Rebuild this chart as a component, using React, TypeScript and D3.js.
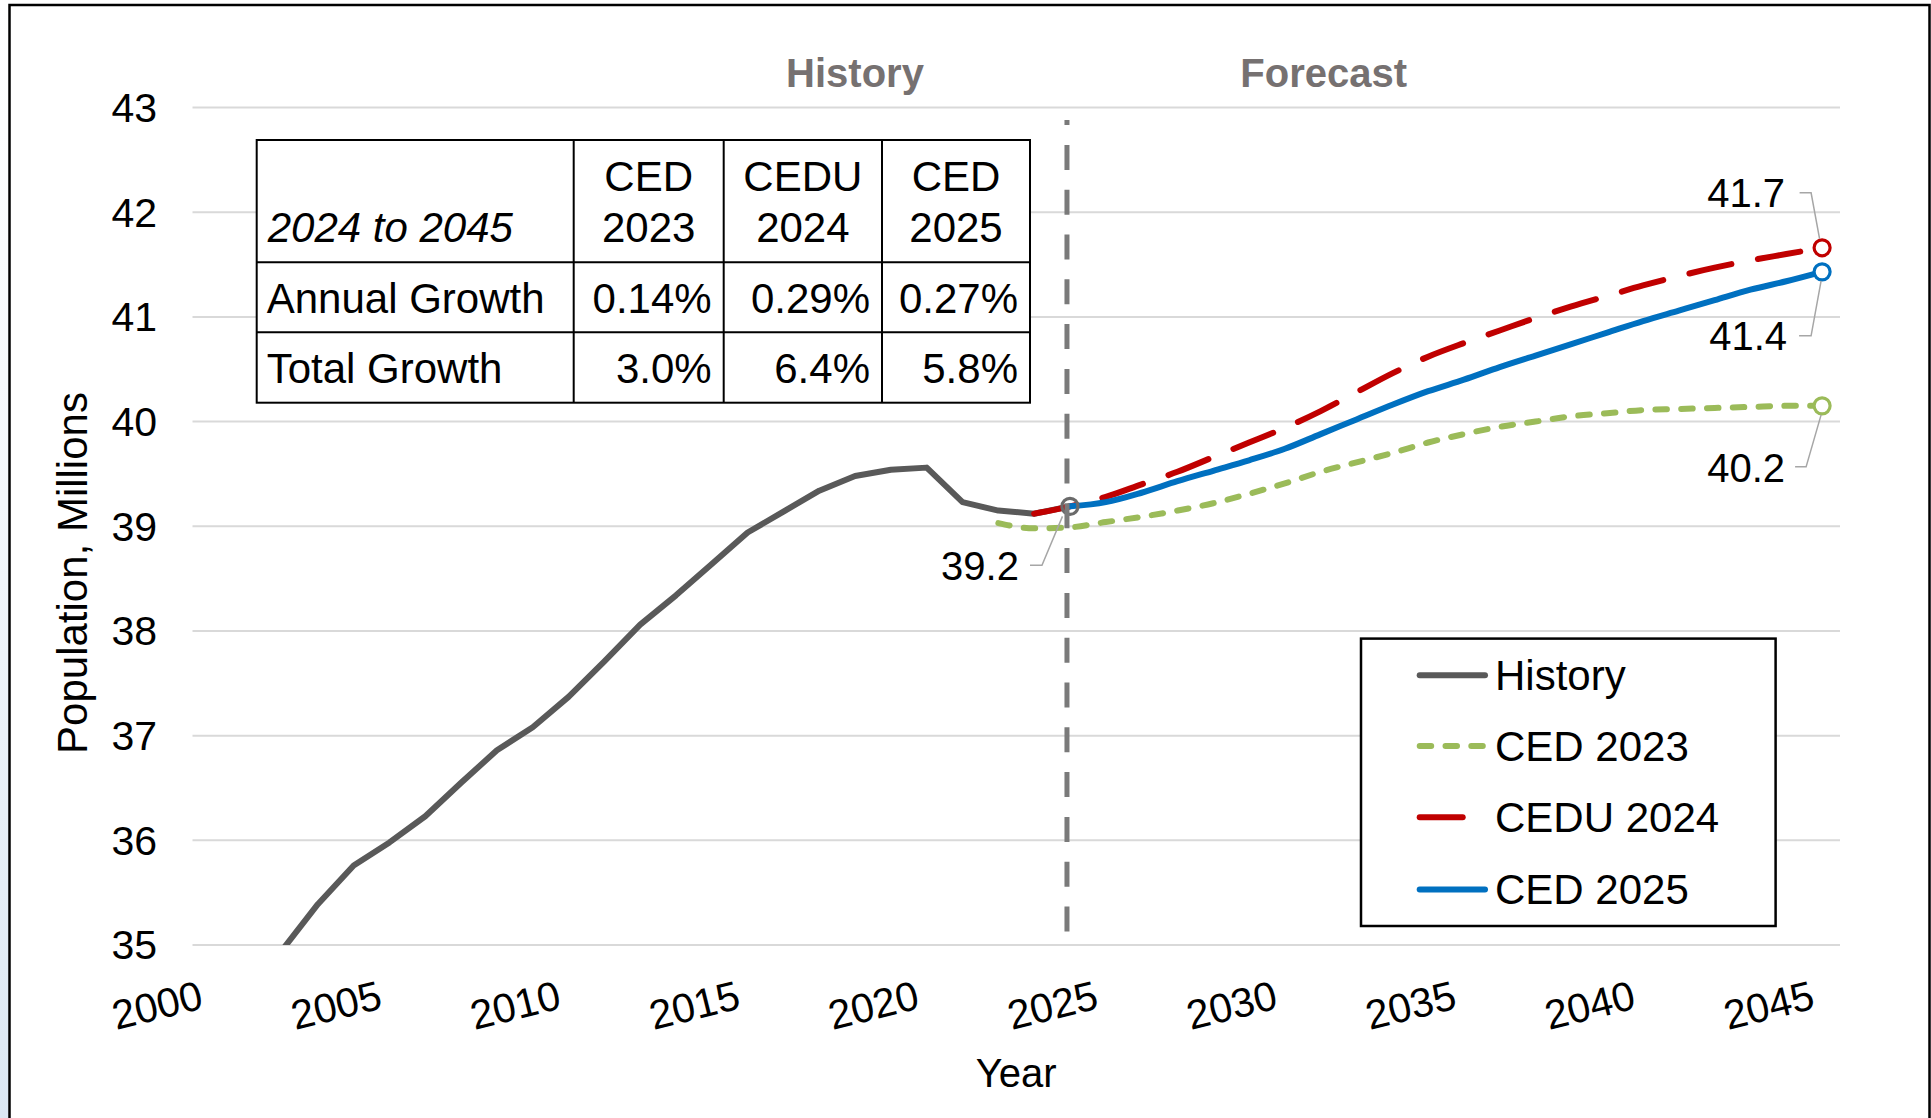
import React from 'react';
import * as d3 from 'd3';

// ---------------- DATA ----------------
const categories = [
  2000, 2001, 2002, 2003, 2004, 2005, 2006, 2007, 2008, 2009,
  2010, 2011, 2012, 2013, 2014, 2015, 2016, 2017, 2018, 2019,
  2020, 2021, 2022, 2023, 2024, 2025, 2026, 2027, 2028, 2029,
  2030, 2031, 2032, 2033, 2034, 2035, 2036, 2037, 2038, 2039,
  2040, 2041, 2042, 2043, 2044, 2045,
];
const xTickLabels = [2000, 2005, 2010, 2015, 2020, 2025, 2030, 2035, 2040, 2045];
const yTicks = [35, 36, 37, 38, 39, 40, 41, 42, 43];

const historyYears = [2002, 2003, 2004, 2005, 2006, 2007, 2008, 2009, 2010, 2011, 2012, 2013, 2014, 2015, 2016, 2017, 2018, 2019, 2020, 2021, 2022, 2023, 2024];
const historyValues = [34.95, 35.39, 35.76, 35.98, 36.23, 36.55, 36.86, 37.08, 37.37, 37.71, 38.06, 38.34, 38.64, 38.94, 39.14, 39.34, 39.48, 39.54, 39.56, 39.23, 39.15, 39.12, 39.19];

const ced2023Years = [2022, 2023, 2024, 2025, 2026, 2027, 2028, 2029, 2030, 2031, 2032, 2033, 2034, 2035, 2036, 2037, 2038, 2039, 2040, 2041, 2042, 2043, 2044, 2045];
const ced2023Values = [39.03, 38.98, 38.99, 39.04, 39.09, 39.15, 39.22, 39.31, 39.41, 39.52, 39.61, 39.70, 39.80, 39.88, 39.95, 40.00, 40.05, 40.08, 40.11, 40.12, 40.13, 40.14, 40.15, 40.15];

const cedu2024Years = [2023, 2024, 2025, 2026, 2027, 2028, 2029, 2030, 2031, 2032, 2033, 2034, 2035, 2036, 2037, 2038, 2039, 2040, 2041, 2042, 2043, 2044, 2045];
const cedu2024Values = [39.12, 39.19, 39.28, 39.40, 39.52, 39.66, 39.80, 39.94, 40.10, 40.28, 40.46, 40.62, 40.75, 40.87, 40.99, 41.10, 41.20, 41.30, 41.39, 41.47, 41.54, 41.60, 41.66];

const ced2025Years = [2024, 2025, 2026, 2027, 2028, 2029, 2030, 2031, 2032, 2033, 2034, 2035, 2036, 2037, 2038, 2039, 2040, 2041, 2042, 2043, 2044, 2045];
const ced2025Values = [39.19, 39.23, 39.32, 39.43, 39.53, 39.63, 39.74, 39.88, 40.02, 40.16, 40.29, 40.40, 40.52, 40.63, 40.74, 40.85, 40.96, 41.06, 41.16, 41.26, 41.34, 41.43];

const seriesNames = ['History', 'CED 2023', 'CEDU 2024', 'CED 2025'];
const endLabels = ['39.2', '40.2', '41.7', '41.4'];

const tableTitle = '2024 to 2045';
const tableHeadTop = ['CED', 'CEDU', 'CED'];
const tableHeadBottom = ['2023', '2024', '2025'];
const tableRowLabels = ['Annual Growth', 'Total Growth'];
const annualGrowth = ['0.14%', '0.29%', '0.27%'];
const totalGrowth = ['3.0%', '6.4%', '5.8%'];

const sectionLabels = ['History', 'Forecast'];
const yAxisTitle = 'Population, Millions';
const xAxisTitle = 'Year';

// ---------------- STYLE ----------------
const FONT = '"Liberation Sans", Arial, Helvetica, sans-serif';
const COLORS = { history: '#595959', ced2023: '#9bbb59', cedu2024: '#c00000', ced2025: '#0070c0' };
const LW = 6;

export default function App() {
  const W = 1931, H = 1118;
  const x = d3.scalePoint<number>().domain(categories).range([192.5, 1840]).padding(0.5);
  const y = d3.scaleLinear().domain([35, 43]).range([945, 107.5]);
  const xs = (v: number) => x(v) as number;

  const zip = (a: number[], b: number[]) => a.map((v, i) => [v, b[i]] as [number, number]);
  const linear = d3.line<[number, number]>().x(d => xs(d[0])).y(d => y(d[1]));
  const smooth = d3.line<[number, number]>().x(d => xs(d[0])).y(d => y(d[1])).curve(d3.curveMonotoneX);

  const hist = zip(historyYears, historyValues);
  const g23 = zip(ced2023Years, ced2023Values);
  const r24 = zip(cedu2024Years, cedu2024Values);
  const b25 = zip(ced2025Years, ced2025Values);

  const last = (arr: [number, number][]) => arr[arr.length - 1];
  const hEnd = last(hist), gEnd = last(g23), rEnd = last(r24), bEnd = last(b25);

  const x0 = 192.5, x1 = 1840;
  const vLineX = xs(2024) - 3;

  // table geometry
  const tX = [256.7, 573.7, 723.7, 882, 1030];
  const tY = [140, 262.3, 332.3, 402.7];

  // legend
  const legX = 1361, legY = 638.6, legW = 414.6, legH = 287.4;
  const legRows = [675.2, 746, 817.2, 889.4];
  const legStyles = [
    { c: COLORS.history, dash: undefined as string | undefined },
    { c: COLORS.ced2023, dash: '11.5 14.3' },
    { c: COLORS.cedu2024, dash: '43 27' },
    { c: COLORS.ced2025, dash: undefined as string | undefined },
  ];

  const markers = [
    { p: hEnd, c: '#6a6a6a' },
    { p: gEnd, c: COLORS.ced2023 },
    { p: rEnd, c: COLORS.cedu2024 },
    { p: bEnd, c: COLORS.ced2025 },
  ];

  const mk = (p: [number, number]) => [xs(p[0]), y(p[1])];
  const [hx, hy] = mk(hEnd);
  const [gx, gy] = mk(gEnd);
  const [rx, ry] = mk(rEnd);
  const [bx, by] = mk(bEnd);

  const dataLabels = [
    { t: endLabels[0], tx: hx - 51, ty: hy + 74, pts: [[hx - 7.5, hy + 10], [hx - 28, hy + 59], [hx - 40, hy + 59]] },
    { t: endLabels[1], tx: gx - 37, ty: gy + 76, pts: [[gx - 1, gy + 9], [gx - 16, gy + 61], [gx - 27, gy + 61]] },
    { t: endLabels[2], tx: rx - 37, ty: ry - 40.6, pts: [[rx - 2.5, ry - 9], [rx - 11, ry - 55], [rx - 22.5, ry - 55]] },
    { t: endLabels[3], tx: bx - 35, ty: by + 78, pts: [[bx - 1, by + 9], [bx - 11, by + 64], [bx - 23, by + 64]] },
  ];

  return (
    <svg width={W} height={H} style={{ position: 'absolute', left: 0, top: 0, display: 'block', background: '#fff' }}
      fontFamily={FONT}>
      <defs>
        <clipPath id="plotClip">
          <rect x={150} y={90} width={1760} height={855} />
        </clipPath>
        <linearGradient id="edgeGrad" x1="0" y1="0" x2="0" y2="1">
          <stop offset="0" stopColor="#ffffff" />
          <stop offset="0.45" stopColor="#f3f7fb" />
          <stop offset="1" stopColor="#dbe7f3" />
        </linearGradient>
      </defs>
      <rect x={0} y={0} width={W} height={H} fill="#fff" />
      <rect x={0} y={0} width={9} height={H} fill="url(#edgeGrad)" />
      <rect x={9.5} y={5} width={1920} height={H + 20} fill="#fff" stroke="#000" strokeWidth={2.5} />

      {/* gridlines */}
      {yTicks.map(t => (
        <line key={t} x1={x0} x2={x1} y1={y(t)} y2={y(t)} stroke="#d9d9d9" strokeWidth={2} />
      ))}

      {/* y tick labels */}
      {yTicks.map(t => (
        <text key={t} x={157} y={y(t)} dy="0.35em" textAnchor="end" fontSize={41} fill="#000">{t}</text>
      ))}

      {/* x tick labels */}
      {xTickLabels.map(t => (
        <text key={t} transform={`translate(${xs(t) - 5.6},1008) rotate(-14)`} textAnchor="end" fontSize={41} fill="#000">{t}</text>
      ))}

      {/* axis titles */}
      <text transform="translate(87,573) rotate(-90)" textAnchor="middle" fontSize={42} fill="#000">{yAxisTitle}</text>
      <text x={(x0 + x1) / 2} y={1087} textAnchor="middle" fontSize={40} fill="#000">{xAxisTitle}</text>

      {/* section labels */}
      <text x={855} y={87} textAnchor="middle" fontSize={40} fontWeight="bold" fill="#767171">{sectionLabels[0]}</text>
      <text x={1323.7} y={87} textAnchor="middle" fontSize={40} fontWeight="bold" fill="#767171">{sectionLabels[1]}</text>

      {/* series */}
      <g clipPath="url(#plotClip)">
        <path d={linear(hist) || ''} fill="none" stroke={COLORS.history} strokeWidth={LW} strokeLinejoin="round" />
        <path d={smooth(g23) || ''} fill="none" stroke={COLORS.ced2023} strokeWidth={LW} strokeDasharray="11.5 14.3" strokeLinecap="round" />
        <path d={smooth(r24) || ''} fill="none" stroke={COLORS.cedu2024} strokeWidth={LW} strokeDasharray="43 27" strokeLinecap="round" />
        <path d={smooth(b25) || ''} fill="none" stroke={COLORS.ced2025} strokeWidth={LW} strokeLinecap="round" />
      </g>

      {/* end markers */}
      {markers.map((m, i) => (
        <circle key={i} cx={xs(m.p[0])} cy={y(m.p[1])} r={8} fill={i === 0 ? 'none' : '#fff'} stroke={m.c} strokeWidth={3.2} />
      ))}

      {/* vertical dashed divider */}
      <line x1={vLineX} x2={vLineX} y1={931.5} y2={120} stroke="#7a7a7a" strokeWidth={5} strokeDasharray="25 19.8" />

      {/* data labels with leader lines */}
      {dataLabels.map((d, i) => (
        <g key={i}>
          <polyline points={d.pts.map(p => p.join(',')).join(' ')} fill="none" stroke="#a6a6a6" strokeWidth={1.5} />
          <text x={d.tx} y={d.ty} textAnchor="end" fontSize={40} fill="#000">{d.t}</text>
        </g>
      ))}

      {/* table */}
      <g>
        <rect x={tX[0]} y={tY[0]} width={tX[4] - tX[0]} height={tY[3] - tY[0]} fill="#fff" stroke="#000" strokeWidth={2} />
        {tX.slice(1, 4).map((v, i) => (
          <line key={'v' + i} x1={v} x2={v} y1={tY[0]} y2={tY[3]} stroke="#000" strokeWidth={2} />
        ))}
        {tY.slice(1, 3).map((v, i) => (
          <line key={'h' + i} x1={tX[0]} x2={tX[4]} y1={v} y2={v} stroke="#000" strokeWidth={2} />
        ))}
        <text x={tX[0] + 11} y={241.7} fontSize={42} fontStyle="italic" fill="#000">{tableTitle}</text>
        {tableHeadTop.map((t, i) => (
          <text key={'ht' + i} x={(tX[i + 1] + tX[i + 2]) / 2} y={190.7} textAnchor="middle" fontSize={42} fill="#000">{t}</text>
        ))}
        {tableHeadBottom.map((t, i) => (
          <text key={'hb' + i} x={(tX[i + 1] + tX[i + 2]) / 2} y={241.7} textAnchor="middle" fontSize={42} fill="#000">{t}</text>
        ))}
        <text x={tX[0] + 10} y={312.7} fontSize={42} fill="#000">{tableRowLabels[0]}</text>
        <text x={tX[0] + 10} y={382.7} fontSize={42} fill="#000">{tableRowLabels[1]}</text>
        {annualGrowth.map((t, i) => (
          <text key={'a' + i} x={tX[i + 2] - 12} y={312.7} textAnchor="end" fontSize={42} fill="#000">{t}</text>
        ))}
        {totalGrowth.map((t, i) => (
          <text key={'t' + i} x={tX[i + 2] - 12} y={382.7} textAnchor="end" fontSize={42} fill="#000">{t}</text>
        ))}
      </g>

      {/* legend */}
      <g>
        <rect x={legX} y={legY} width={legW} height={legH} fill="#fff" stroke="#000" strokeWidth={2.5} />
        {seriesNames.map((n, i) => (
          <g key={n}>
            <line x1={1419.7} x2={1485} y1={legRows[i]} y2={legRows[i]} stroke={legStyles[i].c} strokeWidth={LW}
              strokeLinecap="round" strokeDasharray={legStyles[i].dash} />
            <text x={1495} y={legRows[i] + 14.5} fontSize={42} fill="#000">{n}</text>
          </g>
        ))}
      </g>
    </svg>
  );
}
